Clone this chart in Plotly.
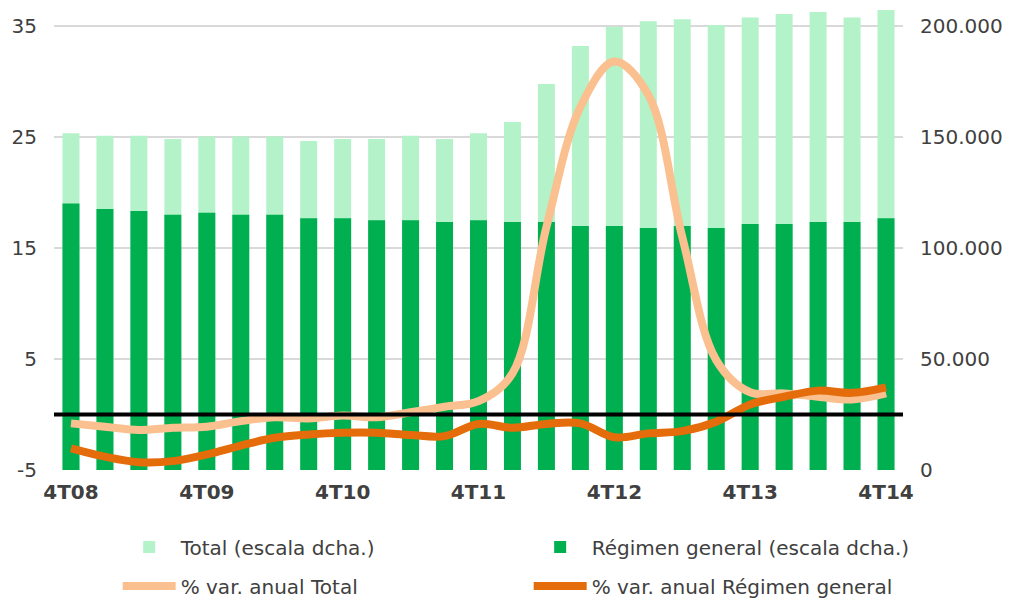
import plotly.graph_objects as go

quarters = ["4T08",
            "1T09", "2T09", "3T09", "4T09",
            "1T10", "2T10", "3T10", "4T10",
            "1T11", "2T11", "3T11", "4T11",
            "1T12", "2T12", "3T12", "4T12",
            "1T13", "2T13", "3T13", "4T13",
            "1T14", "2T14", "3T14", "4T14"]
tick_labels = ["4T08", "4T09", "4T10", "4T11", "4T12", "4T13", "4T14"]

total = [151700, 150600, 150600, 149100, 150200, 150200, 150200, 148200, 149100,
         149100, 150600, 149100, 151700, 156800, 173900, 191000, 199700, 202100,
         203000, 200500, 203800, 205400, 206300, 203800, 207200]
regimen = [120100, 117600, 116700, 115000, 115900, 115000, 115000, 113400, 113400,
           112500, 112500, 111700, 112500, 111700, 111700, 109900, 109900, 109000,
           109900, 109000, 110800, 110800, 111700, 111700, 113400]
var_total = [-0.8, -1.1, -1.4, -1.2, -1.1, -0.6, -0.25, -0.35, -0.1, -0.25, 0.2, 0.7,
             1.2, 3.7, 16.9, 27.7, 31.8, 28.8, 16.0, 4.9, 2.0, 1.9, 1.6, 1.35, 1.9]
var_reg = [-3.05, -3.8, -4.3, -4.2, -3.6, -2.8, -2.1, -1.8, -1.65, -1.65, -1.85, -1.95,
           -0.85, -1.2, -0.85, -0.8, -2.05, -1.7, -1.5, -0.65, 0.9, 1.6, 2.15, 1.95, 2.45]

left_ticks = [-5, 5, 15, 25, 35]
left_labels = ["-5", "5", "15", "25", "35"]
right_ticks = [0, 50000, 100000, 150000, 200000]
right_labels = ["0", "50.000", "100.000", "150.000", "200.000"]

FONT = "DejaVu Sans"
GRAY = "#404040"

fig = go.Figure()
fig.add_trace(go.Bar(x=quarters, y=total, name="Total (escala dcha.)",
                     marker=dict(color="#B4F2C9", line=dict(width=0)),
                     width=0.5, yaxis="y", legend="legend"))
fig.add_trace(go.Bar(x=quarters, y=regimen, name="Régimen general (escala dcha.)",
                     marker=dict(color="#00B050", line=dict(width=0)),
                     width=0.5, yaxis="y", legend="legend"))
fig.add_trace(go.Scatter(x=quarters, y=var_total, name="% var. anual Total",
                         mode="lines", line=dict(color="#FAC090", width=8, shape="spline", smoothing=1.0),
                         yaxis="y2", legend="legend2"))
fig.add_trace(go.Scatter(x=quarters, y=var_reg, name="% var. anual Régimen general",
                         mode="lines", line=dict(color="#E46C0A", width=8, shape="spline", smoothing=1.0),
                         yaxis="y2", legend="legend2"))

fig.add_shape(type="line", xref="paper", yref="y2", x0=0, x1=1, y0=0, y1=0,
              line=dict(color="black", width=4), layer="above")

fig.update_layout(
    width=1010, height=598,
    margin=dict(l=46, r=115, t=0, b=136, autoexpand=False),
    paper_bgcolor="white", plot_bgcolor="white",
    barmode="overlay",
    font=dict(family=FONT, size=20, color=GRAY),
    xaxis=dict(type="category", tickvals=tick_labels, ticktext=tick_labels,
               tickfont=dict(family="DejaVu Sans", size=20, color=GRAY, weight="bold"),
               showgrid=False, showline=False, zeroline=False, ticks="",
               ticklabelstandoff=8, automargin=False),
    yaxis=dict(range=[0, 208108], tickvals=right_ticks, ticktext=right_labels,
               side="right", showgrid=True, gridcolor="#D9D9D9", gridwidth=2,
               zeroline=False, showline=False, ticks="", ticklabelstandoff=16,
               automargin=False),
    yaxis2=dict(range=[-5, 36.62], tickvals=left_ticks, ticktext=left_labels,
                overlaying="y", side="left",
                showgrid=False, zeroline=False, showline=False, ticks="",
                ticklabelstandoff=16, automargin=False),
    legend=dict(orientation="h", x=0.075, y=-0.1667, xanchor="left", yanchor="middle",
                entrywidth=343, entrywidthmode="pixels", itemwidth=53,
                font=dict(family=FONT, size=20, color=GRAY), bgcolor="rgba(0,0,0,0)"),
    legend2=dict(orientation="h", x=0.075, y=-0.251, xanchor="left", yanchor="middle",
                 entrywidth=343, entrywidthmode="pixels", itemwidth=53,
                 font=dict(family=FONT, size=20, color=GRAY), bgcolor="rgba(0,0,0,0)"),
    showlegend=True,
)

fig.write_html("out.html")
